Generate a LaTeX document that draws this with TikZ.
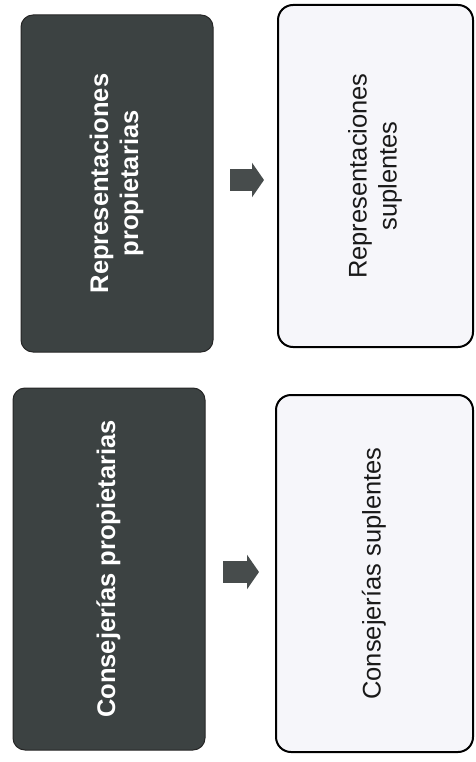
\documentclass[tikz,border=0pt]{standalone}
\usepackage{fontspec}
\setmainfont{Liberation Sans}
\usepackage{graphicx}
\usetikzlibrary{arrows.meta}
\definecolor{boxdark}{HTML}{3C4242}
\definecolor{boxlight}{HTML}{F6F6FA}
\definecolor{arrowgrey}{HTML}{474C4C}
\newcommand{\vtext}[1]{\rotatebox{90}{\begin{tabular}{@{}c@{}}#1\end{tabular}}}

\begin{document}
\begin{tikzpicture}[x=1pt,y=-1pt,
darkbox/.style={draw=black!85,line width=1pt,fill=boxdark,rounded corners=12pt,
  text=white,font=\fontsize{25.5}{30}\selectfont\bfseries,inner sep=0pt},
lightbox/.style={draw=black,line width=2pt,fill=boxlight,rounded corners=15pt,
  text=black!90,font=\fontsize{25.5}{30}\selectfont,inner sep=0pt},
blockarrow/.style={line width=22pt,draw=arrowgrey,-{Triangle[length=12pt,width=34pt]}}]
\useasboundingbox (0,0) rectangle (475,762);
\node[darkbox,minimum width=192pt,minimum height=337pt] (rp) at (117,183.5) {\vtext{Representaciones\\propietarias}};
\node[lightbox,minimum width=195pt,minimum height=342pt] (rs) at (375.5,176) {\vtext{Representaciones\\suplentes}};
\node[darkbox,minimum width=192pt,minimum height=362pt] (cp) at (109,569) {\vtext{Consejerías propietarias}};
\node[lightbox,minimum width=197pt,minimum height=357pt] (cs) at (374.5,573.5) {\vtext{Consejerías suplentes}};
\coordinate (a1s) at (230,180);
\coordinate (a1e) at (264,180);
\coordinate (a2s) at (223,572);
\coordinate (a2e) at (259,572);
\draw[blockarrow](a1s)--(a1e);
\draw[blockarrow](a2s)--(a2e);
\end{tikzpicture}
\end{document}
